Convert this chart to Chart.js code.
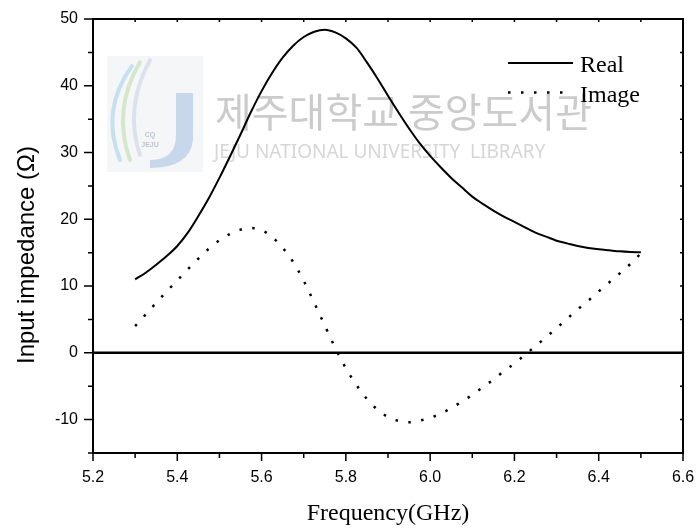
<!DOCTYPE html>
<html>
<head>
<meta charset="utf-8">
<script src="https://cdn.jsdelivr.net/npm/chart.js@4.4.1/dist/chart.umd.min.js"></script>
<style>
  body { margin: 0; background: #fff; }
  #wrap { width: 698px; height: 530px; }
</style>
</head>
<body>
<div id="wrap"><canvas id="zChart" width="698" height="530"></canvas></div>
<script>
// frequency sweep (GHz)
var freq = [5.300, 5.325, 5.350, 5.375, 5.400, 5.425, 5.450, 5.475, 5.500, 5.525,
            5.550, 5.575, 5.600, 5.625, 5.650, 5.675, 5.700, 5.725, 5.750, 5.775,
            5.800, 5.825, 5.850, 5.875, 5.900, 5.925, 5.950, 5.975, 6.000, 6.025,
            6.050, 6.075, 6.100, 6.125, 6.150, 6.175, 6.200, 6.225, 6.250, 6.275,
            6.300, 6.325, 6.350, 6.375, 6.400, 6.425, 6.450, 6.475, 6.500];

// real part of input impedance (ohm)
var realZ = [11.0, 12.0, 13.2, 14.5, 16.0, 18.0, 20.5, 23.2, 26.2, 29.4,
             32.7, 36.1, 39.2, 41.9, 44.2, 46.0, 47.3, 48.1, 48.4, 48.0,
             47.1, 45.7, 43.5, 41.1, 38.5, 36.0, 33.6, 31.4, 29.5, 27.8,
             26.2, 24.8, 23.4, 22.3, 21.3, 20.4, 19.6, 18.8, 18.0, 17.4,
             16.8, 16.4, 16.0, 15.7, 15.5, 15.35, 15.2, 15.1, 15.05];

// imaginary part
var imagZ = [4.0, 5.75, 7.5, 9.2, 10.85, 12.5, 14.1, 15.6, 16.85, 17.8,
             18.45, 18.7, 18.4, 17.35, 15.75, 13.6, 10.8, 7.5, 4.1, 0.7,
             -2.3, -4.8, -6.9, -8.5, -9.6, -10.2, -10.4, -10.15, -9.75, -9.1,
             -8.3, -7.3, -6.3, -5.15, -4.0, -2.75, -1.6, -0.3, 1.0, 2.35,
             3.7, 5.1, 6.5, 7.8, 9.2, 10.55, 11.9, 13.3, 14.9];

var seriesNames = ["Real", "Image"];
var xMin = 5.2, xMax = 6.6;
var yMin = -15, yMax = 50;

function pts(ys) {
	return freq.map(function (f, i) { return { x: f, y: ys[i] }; });
}

var sansFont = '"Liberation Sans", Arial, sans-serif';
var serifFont = '"Liberation Serif", "Times New Roman", serif';

// frame, ticks, zero line, legend, axis titles and the library stamp
var framePlugin = {
	id: 'frame',
	beforeDatasetsDraw: function (chart) {
		var ctx = chart.ctx;
		var y = chart.scales.y;
		var a = chart.chartArea;
		ctx.save();

		// library stamp
		ctx.fillStyle = 'rgba(236,238,240,0.5)';
		ctx.fillRect(107, 56, 96, 116);
		ctx.globalAlpha = 0.55;
		ctx.lineCap = 'round';
		ctx.strokeStyle = '#9fd0ea';
		ctx.lineWidth = 4;
		ctx.beginPath();
		ctx.moveTo(132, 66);
		ctx.quadraticCurveTo(100, 110, 120, 160);
		ctx.stroke();
		ctx.strokeStyle = '#b9dca8';
		ctx.beginPath();
		ctx.moveTo(140, 62);
		ctx.quadraticCurveTo(112, 110, 130, 160);
		ctx.stroke();
		ctx.strokeStyle = '#c8d4e4';
		ctx.beginPath();
		ctx.moveTo(150, 60);
		ctx.quadraticCurveTo(124, 108, 140, 155);
		ctx.stroke();
		ctx.fillStyle = '#a6c0e4';
		ctx.beginPath();
		ctx.moveTo(176, 93);
		ctx.lineTo(193, 93);
		ctx.lineTo(193, 140);
		ctx.quadraticCurveTo(190, 168, 150, 168);
		ctx.lineTo(150, 160);
		ctx.quadraticCurveTo(176, 160, 176, 135);
		ctx.closePath();
		ctx.fill();
		ctx.fillStyle = '#8a9ab0';
		ctx.font = 'bold 7px ' + sansFont;
		ctx.textAlign = 'center';
		ctx.fillText('CQ', 150, 137);
		ctx.fillText('JEJU', 150, 147);
		ctx.globalAlpha = 1;

		ctx.textAlign = 'left';
		ctx.fillStyle = '#cbcbcb';
		ctx.font = '40px "Noto Sans CJK KR"';
		ctx.fillText('제주대학교 중앙도서관', 215, 127, 378);
		ctx.fillStyle = '#d6d6d6';
		ctx.font = '19px "Noto Sans", sans-serif';
		ctx.fillText('JEJU NATIONAL UNIVERSITY  LIBRARY', 214, 158, 385);

		// zero line
		var y0 = y.getPixelForValue(0);
		ctx.strokeStyle = '#000';
		ctx.lineWidth = 2.5;
		ctx.beginPath();
		ctx.moveTo(a.left, y0);
		ctx.lineTo(a.right, y0);
		ctx.stroke();
		ctx.restore();
	},
	afterDraw: function (chart) {
		var ctx = chart.ctx;
		var a = chart.chartArea;
		var xs = chart.scales.x, ys = chart.scales.y;
		ctx.save();
		ctx.strokeStyle = '#000';
		ctx.lineWidth = 2;
		ctx.strokeRect(a.left, a.top, a.right - a.left, a.bottom - a.top);

		ctx.lineWidth = 1.5;
		ctx.beginPath();
		ys.ticks.forEach(function (t) {
			var p = ys.getPixelForValue(t.value);
			var major = Math.round(t.value) % 10 === 0;
			ctx.moveTo(a.left, p);
			ctx.lineTo(a.left - (major ? 9 : 5), p);
			ctx.moveTo(a.right, p);
			ctx.lineTo(a.right - 3, p);
		});
		xs.ticks.forEach(function (t) {
			var p = xs.getPixelForValue(t.value);
			var major = Math.round(t.value * 10) % 2 === 0;
			ctx.moveTo(p, a.bottom);
			ctx.lineTo(p, a.bottom + (major ? 8 : 5));
			ctx.moveTo(p, a.top);
			ctx.lineTo(p, a.top + 3);
		});
		ctx.stroke();

		// legend
		ctx.font = '24px ' + serifFont;
		ctx.fillStyle = '#000';
		ctx.textAlign = 'left';
		ctx.textBaseline = 'alphabetic';
		chart.data.datasets.forEach(function (ds, i) {
			var ly = 63 + i * 29.5;
			ctx.save();
			ctx.lineWidth = ds.borderWidth;
			ctx.setLineDash(ds.borderDash || []);
			ctx.beginPath();
			ctx.moveTo(508, ly);
			ctx.lineTo(573, ly);
			ctx.stroke();
			ctx.restore();
			ctx.fillText(ds.label, 580, ly + 9);
		});

		// axis titles
		ctx.textAlign = 'center';
		ctx.font = '24px ' + serifFont;
		ctx.fillText('Frequency(GHz)', (a.left + a.right) / 2, 520);
		ctx.translate(34, 255);
		ctx.rotate(-Math.PI / 2);
		ctx.font = '24px ' + sansFont;
		ctx.fillText('Input impedance (\u03A9)', 0, 0);
		ctx.restore();
	}
};

new Chart(document.getElementById('zChart'), {
	type: 'line',
	data: {
		datasets: [
			{
				label: seriesNames[0],
				data: pts(realZ),
				borderColor: '#000',
				borderWidth: 2,
				pointRadius: 0,
				cubicInterpolationMode: 'monotone',
				fill: false
			},
			{
				label: seriesNames[1],
				data: pts(imagZ),
				borderColor: '#000',
				borderWidth: 2.5,
				borderDash: [2.5, 10.5],
				pointRadius: 0,
				cubicInterpolationMode: 'monotone',
				fill: false
			}
		]
	},
	options: {
		responsive: false,
		animation: false,
		layout: { padding: { left: 0, right: 15, top: 19, bottom: 0 } },
		plugins: { legend: { display: false }, tooltip: { enabled: false } },
		scales: {
			x: {
				type: 'linear',
				min: xMin,
				max: xMax,
				grid: { display: false },
				border: { display: false },
				afterFit: function (s) {
					s.height = 77;
					s.paddingLeft = 0;
					s.paddingRight = 0;
				},
				ticks: {
					stepSize: 0.1,
					padding: 7,
					color: '#000',
					font: { family: sansFont, size: 16 },
					maxRotation: 0,
					autoSkip: false,
					callback: function (v) {
						return Math.round(v * 10) % 2 === 0 ? v.toFixed(1) : '';
					}
				}
			},
			y: {
				min: yMin,
				max: yMax,
				grid: { display: false },
				border: { display: false },
				afterFit: function (s) {
					s.width = 93;
					s.paddingTop = 0;
					s.paddingBottom = 0;
				},
				ticks: {
					stepSize: 5,
					padding: 7,
					color: '#000',
					font: { family: sansFont, size: 16 },
					autoSkip: false,
					callback: function (v) {
						return Math.round(v) % 10 === 0 ? String(v) : '';
					}
				}
			}
		}
	},
	plugins: [framePlugin]
});
</script>
</body>
</html>
